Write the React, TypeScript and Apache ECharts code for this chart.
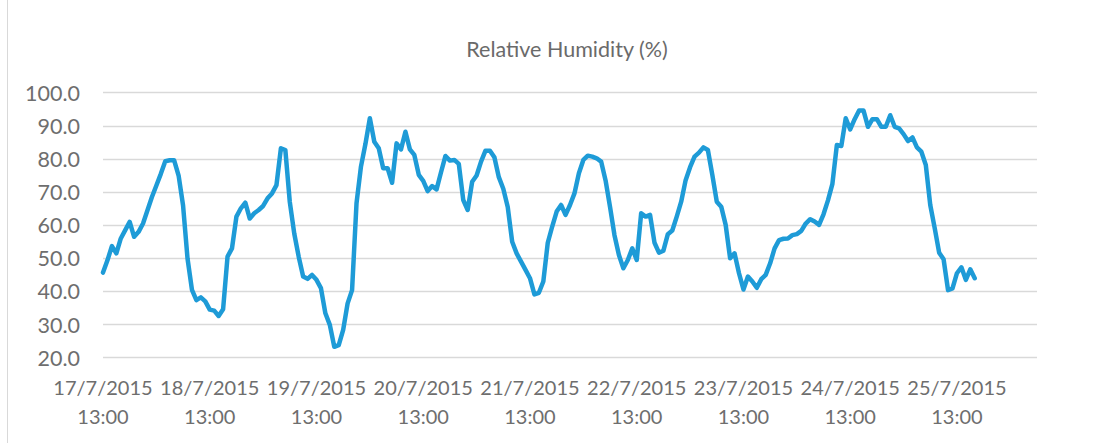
import React, { useEffect, useRef } from "react";
import * as echarts from "echarts";

const TITLE = "Relative Humidity (%)";
const START_DAY = 17;
const START_HOUR = 13;
const TOTAL_HOURS = 211;

const day1 = [45.7, 49.4, 53.7, 51.5, 56.0, 58.5, 61.0, 56.5, 58.0, 60.5, 64.5, 68.5, 72.0, 75.5, 79.3, 79.6, 79.6, 75.0, 66.0, 50.0, 40.5, 37.4, 38.2, 37.0];
const day2 = [34.5, 34.2, 32.6, 34.6, 50.5, 53.0, 62.6, 65.1, 66.8, 62.0, 63.6, 64.6, 65.8, 68.1, 69.6, 72.1, 83.2, 82.7, 67.0, 57.5, 50.5, 44.5, 43.8, 45.0];
const day3 = [43.5, 41.0, 33.4, 29.9, 23.3, 23.8, 28.4, 36.4, 40.4, 66.6, 77.7, 84.5, 92.3, 85.2, 83.2, 77.2, 77.2, 72.8, 84.7, 82.9, 88.2, 82.9, 81.2, 75.2];
const day4 = [73.4, 70.3, 71.8, 70.8, 76.0, 80.9, 79.5, 79.7, 78.5, 67.6, 64.6, 73.1, 75.0, 79.2, 82.5, 82.5, 80.5, 74.5, 71.0, 65.5, 55.0, 51.5, 49.0, 46.5];
const day5 = [44.0, 39.1, 39.6, 43.0, 54.7, 59.6, 64.1, 66.1, 63.1, 66.1, 69.6, 75.7, 79.7, 81.0, 80.7, 80.2, 79.2, 73.5, 65.5, 57.0, 51.0, 47.0, 49.5, 53.0];
const day6 = [49.5, 63.6, 62.6, 63.1, 54.7, 51.7, 52.3, 57.3, 58.4, 62.6, 67.1, 73.6, 77.5, 80.7, 81.9, 83.5, 82.7, 75.2, 67.1, 65.6, 60.1, 50.0, 51.5, 45.5];
const day7 = [40.6, 44.5, 43.0, 41.1, 43.7, 45.0, 48.5, 53.0, 55.5, 55.9, 56.0, 57.0, 57.3, 58.3, 60.5, 61.8, 61.1, 60.1, 63.3, 67.5, 72.5, 84.2, 83.9, 92.3];
const day8 = [88.9, 92.0, 94.6, 94.6, 89.7, 92.0, 92.0, 89.7, 89.7, 93.2, 89.7, 89.2, 87.5, 85.4, 86.5, 83.5, 82.2, 78.2, 66.1, 59.1, 51.7, 49.7, 40.4, 40.9];
const day9 = [45.5, 47.3, 43.5, 46.7, 44.0];

const humidity: (number | null)[] = [...day1, ...day2, ...day3, ...day4, ...day5, ...day6, ...day7, ...day8, ...day9];

const categories: string[] = [];
for (let h = 0; h < TOTAL_HOURS; h++) {
  const t = START_HOUR + h;
  const d = START_DAY + Math.floor(t / 24);
  const hh = t % 24;
  categories.push(`${d}/7/2015 ${hh}:00`);
}
while (humidity.length < TOTAL_HOURS) humidity.push(null);

export default function App() {
  const ref = useRef<HTMLDivElement>(null);
  useEffect(() => {
    if (!ref.current) return;
    const chart = echarts.init(ref.current, undefined, { renderer: "svg" });
    const textColor = "#6e6e6e";
    chart.setOption({
      animation: false,
      backgroundColor: "#ffffff",
      textStyle: { fontFamily: "Lato" },
      title: {
        text: TITLE,
        left: 562,
        top: 33,
        textAlign: "center",
        textStyle: { fontFamily: "Lato", fontSize: 21.5, fontWeight: "normal", color: "#6a6a6a" },
      },
      graphic: [
        {
          type: "line",
          shape: { x1: 7.5, y1: 0, x2: 7.5, y2: 443 },
          style: { stroke: "#d9d9d9", lineWidth: 1 },
        },
      ],
      grid: { left: 103, right: 68, top: 92.7, bottom: 85.3, containLabel: false },
      xAxis: {
        type: "category",
        data: categories,
        boundaryGap: false,
        axisLine: { show: false },
        axisTick: { show: false },
        splitLine: { show: false },
        axisLabel: {
          interval: 23,
          margin: 15,
          color: textColor,
          fontFamily: "Lato",
          fontSize: 20,
          lineHeight: 29,
          formatter: (v: string) => v.replace(" ", "\n"),
        },
      },
      yAxis: {
        type: "value",
        min: 20,
        max: 100,
        interval: 10,
        axisLine: { show: false },
        axisTick: { show: false },
        splitLine: { lineStyle: { color: "#d9d9d9", width: 1.3 } },
        axisLabel: {
          margin: 23,
          color: textColor,
          fontFamily: "Lato",
          fontSize: 21.5,
          formatter: (v: number) => v.toFixed(1),
        },
      },
      series: [
        {
          type: "line",
          data: humidity,
          showSymbol: false,
          connectNulls: false,
          lineStyle: { color: "#1e9bd7", width: 4.5, join: "round", cap: "round" },
          itemStyle: { color: "#1e9bd7" },
        },
      ],
    });
    return () => chart.dispose();
  }, []);
  return <div ref={ref} style={{ position: "fixed", left: 0, top: 0, width: 1105, height: 443 }} />;
}
